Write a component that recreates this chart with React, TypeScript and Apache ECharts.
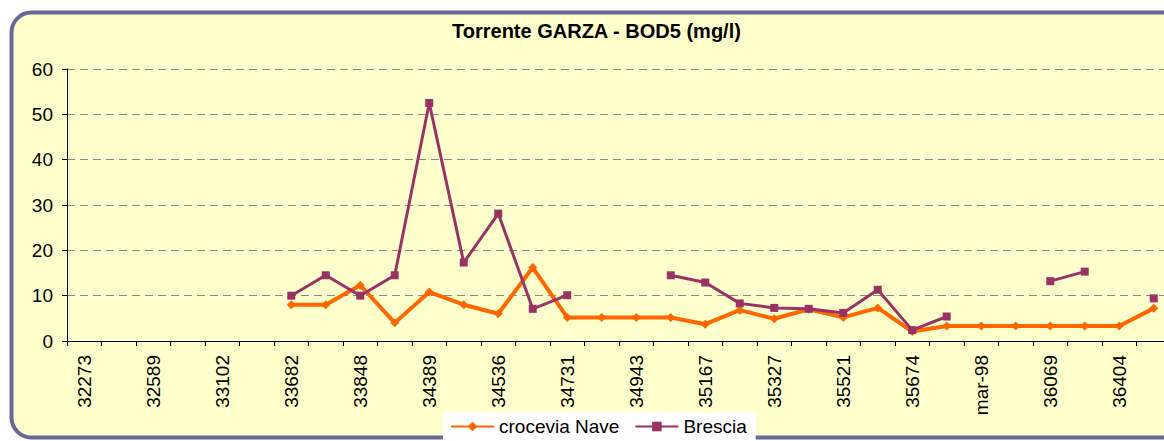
import React, { useEffect, useRef } from "react";
import * as echarts from "echarts";

const title = "Torrente GARZA - BOD5 (mg/l)";
const categories: string[] = [
  "32273", "", "32589", "", "33102", "", "33682", "", "33848", "", "34389", "", "34536", "", "34731", "",
  "34943", "", "35167", "", "35327", "", "35521", "", "35674", "", "mar-98", "", "36069", "", "36404", "",
];
const seriesNames = ["crocevia Nave", "Brescia"];
const croceviaNave: (number | null)[] = [
  null, null, null, null, null, null, 8, 8, 12.3, 4, 10.8, 8, 6, 16.2, 5.2, 5.2,
  5.2, 5.2, 3.7, 6.8, 4.9, 7.0, 5.2, 7.3, 2.1, 3.3, 3.3, 3.3, 3.3, 3.3, 3.3, 7.2,
];
const brescia: (number | null)[] = [
  null, null, null, null, null, null, 10, 14.5, 10, 14.5, 52.5, 17.3, 28.1, 7.1, 10.1, null,
  null, 14.5, 12.9, 8.3, 7.3, 7.1, 6.2, 11.3, 2.4, 5.4, null, null, 13.2, 15.3, null, 9.4,
];
const yMin = 0;
const yMax = 60;
const yInterval = 10;

const FONT = "Arial, 'Liberation Sans', sans-serif";

export default function App() {
  const ref = useRef<HTMLDivElement>(null);
  useEffect(() => {
    if (!ref.current) return;
    const chart = echarts.init(ref.current, null, { renderer: "svg" });
    chart.setOption({
      animation: false,
      backgroundColor: "#ffffff",
      textStyle: { fontFamily: FONT },
      title: {
        text: title,
        left: 452,
        top: 21,
        padding: 0,
        textStyle: { fontFamily: FONT, fontSize: 20, fontWeight: "bold", color: "#000" },
      },
      graphic: [
        {
          type: "rect",
          z: -10,
          shape: { x: 11.5, y: 12.5, width: 1250, height: 425, r: 20 },
          style: { fill: "#FFFFCC", stroke: "#68689A", lineWidth: 4 },
        },
      ],
      legend: {
        data: seriesNames,
        left: 443,
        top: 412,
        padding: [5, 9, 9, 7],
        itemGap: 15,
        itemWidth: 43,
        itemHeight: 12,
        backgroundColor: "#ffffff",
        textStyle: { fontFamily: FONT, fontSize: 19, color: "#000" },
      },
      grid: { left: 67, right: 0, top: 69, bottom: 100, containLabel: false },
      xAxis: {
        type: "category",
        data: categories,
        boundaryGap: true,
        axisLine: { lineStyle: { color: "#000", width: 1 } },
        axisTick: { show: true, length: 5, interval: 0, lineStyle: { color: "#000" } },
        axisLabel: {
          interval: 1,
          rotate: 90,
          margin: 14,
          fontSize: 19,
          fontFamily: FONT,
          color: "#000",
        },
        splitLine: { show: false },
      },
      yAxis: {
        type: "value",
        min: yMin,
        max: yMax,
        interval: yInterval,
        axisLine: { show: true, lineStyle: { color: "#000", width: 1 } },
        axisTick: { show: true, length: 5, lineStyle: { color: "#000" } },
        axisLabel: { margin: 14, fontSize: 19, fontFamily: FONT, color: "#000" },
        splitLine: { show: true, lineStyle: { color: "#888", type: [8, 5], width: 1 } },
      },
      series: [
        {
          name: seriesNames[0],
          type: "line",
          data: croceviaNave,
          connectNulls: false,
          symbol: "diamond",
          symbolSize: 9,
          showAllSymbol: true,
          itemStyle: { color: "#FF6600" },
          lineStyle: { color: "#FF6600", width: 4 },
          z: 2,
        },
        {
          name: seriesNames[1],
          type: "line",
          data: brescia,
          connectNulls: false,
          symbol: "rect",
          symbolSize: 8,
          showAllSymbol: true,
          itemStyle: { color: "#993366" },
          lineStyle: { color: "#993366", width: 3 },
          z: 3,
        },
      ],
    });
    return () => chart.dispose();
  }, []);
  return (
    <div style={{ position: "fixed", left: 0, top: 0, width: 1164, height: 441, overflow: "hidden" }}>
      <div ref={ref} style={{ width: 1171, height: 441 }} />
    </div>
  );
}
